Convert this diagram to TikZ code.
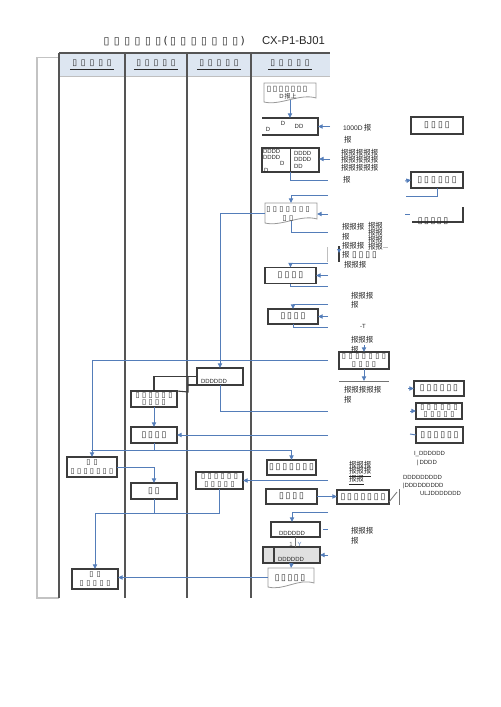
\documentclass[tikz,border=0pt]{standalone}
\usepackage{fontspec}
\setmainfont{Liberation Sans}
\newfontfamily\symf{DejaVu Sans}
\newfontfamily\cjkf{Noto Sans CJK SC}
\usetikzlibrary{calc,arrows.meta}
\definecolor{conn}{RGB}{84,125,185}
\definecolor{hdr}{RGB}{221,230,241}
\definecolor{boxc}{RGB}{60,60,60}
\definecolor{lanec}{RGB}{85,85,85}
\definecolor{framec}{RGB}{195,195,195}
\newcount\tfcnt
\newcommand\tofus[2]{\tfcnt=0\relax\loop\ifnum\tfcnt<#1\relax\makebox[#2pt]{\symf ▯}\advance\tfcnt by 1\relax\repeat}
\newcommand\docsh[1]{\draw[docl] (#1.north west) -- (#1.north east) -- ($(#1.south east)+(0,-4)$) .. controls ($(#1.south east)+(-16,-9)$) and ($(#1.south west)+(16,4)$) .. (#1.south west) -- cycle;}
\tikzset{
  every node/.style={inner sep=0pt, outer sep=0pt, text=black!85},
  bx/.style 2 args={draw=boxc, line width=0.8pt, fill=white, minimum width=#1*0.75pt, minimum height=#2*0.75pt},
  bxo/.style 2 args={minimum width=#1*0.75pt, minimum height=#2*0.75pt},
  tf/.style={font=\fontsize{6.6}{5.2}\selectfont, align=center},
  tf2/.style={font=\fontsize{5.6}{5.4}\selectfont, align=center},
  dt/.style={font=\fontsize{4.5}{5}\selectfont},
  cj/.style={font=\cjkf\fontsize{5.6}{6}\selectfont, anchor=west},
  cn/.style={draw=conn, line width=0.7pt},
  ca/.style={cn, -{Triangle[length=3.5pt,width=3.2pt]}},
  boxl/.style={draw=boxc, line width=0.8pt},
  thinl/.style={draw=black!55, line width=0.6pt},
  lightl/.style={draw=black!25, line width=0.6pt},
  lane/.style={draw=lanec, line width=0.9pt},
  docl/.style={draw=black!40, line width=0.6pt, fill=white},
  hl/.style={font=\fontsize{6.5}{6}\selectfont}
}
\begin{document}
\begin{tikzpicture}[x=0.75pt,y=-0.75pt]
\useasboundingbox (0,0) rectangle (500,707);
% title
\node[font=\symf\fontsize{8}{8}\selectfont] (title) at (173,41) {\tofus{6}{7.8}(\tofus{7}{7.8})};
\node[font=\fontsize{8.5}{10}\selectfont, anchor=west] (code) at (262,41) {CX-P1-BJ01};
% frame and lanes
\fill[hdr] (59,53) rectangle (330,76);
\draw[framec, line width=0.8pt] (37,57) -- (37,598) -- (59,598);
\draw[framec, line width=0.6pt] (37,57) -- (59,57);
\draw[lane] (59,53) -- (330,53);
\draw[black!25, line width=0.4pt] (59,76) -- (330,76);
\foreach \x in {59,125,187,251} \draw[lane] (\x,53) -- (\x,598);
\node[hl] (h1) at (92,65) {\underline{\tofus{5}{6.5}}};
\node[hl] (h2) at (156,65) {\underline{\tofus{5}{6.5}}};
\node[hl] (h3) at (219,65) {\underline{\tofus{5}{6.5}}};
\node[hl] (h4) at (290,65) {\underline{\tofus{5}{6.5}}};

% ---------- right lane ----------
\node[bxo={52}{19}] (doc1) at (290,92.5) {};
\docsh{doc1}
\node[tf, font=\fontsize{6}{5}\selectfont] (doc1a) at (287,89) {\tofus{7}{4.5}};
\node[dt] (doc1b) at (288,96.5) {D\,{\cjkf 报上}};

\node[bxo={56}{17}] (b2) at (290,126.5) {};
\draw[boxl] (b2.north west) -- (b2.north east) -- (b2.south east) -- (b2.south west);
\node[dt] (b2a) at (268,129) {D};
\node[dt] (b2b) at (283,123) {D};
\node[dt] (b2c) at (299,126) {DD};

\node[bx={52}{17}, tf] (r1) at (437,125.5) {\tofus{4}{5.2}};

\node[bx={57}{24}] (b3) at (290.5,160) {};
\draw[boxl] (b3.north) -- (b3.south);
\node[dt, anchor=west] (b3a) at (263,151.5) {DDDD};
\node[dt, anchor=west] (b3b) at (263,157) {DDDD};
\node[dt, anchor=west] (b3c) at (280,163.5) {D};
\node[dt, anchor=west] (b3d) at (264,170) {D};
\node[dt, anchor=west] (b3e) at (294,153) {DDDD};
\node[dt, anchor=west] (b3f) at (294,159.5) {DDDD};
\node[dt, anchor=west] (b3g) at (294,166) {DD};

\node[bx={52}{16}, tf] (r2) at (437,180) {\tofus{6}{5.2}};
\node[bxo={51}{15}] (r3) at (437.5,214.5) {};
\draw[boxl] (r3.north east) -- (r3.south east) -- (r3.south west);
\node[tf, anchor=base] (r3t) at (433,223.5) {\tofus{5}{4.8}};

\node[bxo={52}{20}] (doc2) at (291,213) {};
\docsh{doc2}
\node[tf2] (doc2a) at (288,210) {\tofus{7}{4.9}};
\node[tf2] (doc2b) at (288,218.5) {\tofus{2}{4.9}};

\node[bx={51}{16}, tf] (b4) at (290.5,275.5) {\tofus{4}{5.2}};
\node[bx={50}{15}, tf] (b5) at (293,316.5) {\tofus{4}{5}};
\node[bx={50}{17}, tf2] (b6) at (364,360.5) {\tofus{7}{5}\\\tofus{4}{5}};
\draw[thinl] (339,381) -- (389,381);

\node[bx={50}{15}, tf] (r4) at (439,388.5) {\tofus{6}{5}};
\node[bx={46}{16}, tf2] (r5) at (439,411) {\tofus{6}{5}\\\tofus{5}{5}};
\node[bx={47}{16}, tf] (r6) at (439.5,435) {\tofus{6}{5}};

\node[bx={49}{15}, tf] (b7) at (291.5,467.5) {\tofus{7}{5}};
\node[bx={51}{15}, tf] (b8) at (291.5,496.5) {\tofus{4}{5}};
\node[bx={52}{14}, tf] (b9) at (363,497) {\tofus{7}{5}};
\draw[thinl] (389,502) -- (397,492);
\draw[thinl] (399,489) -- (399,505);

\node[bx={49}{15}] (b10) at (295.5,529.5) {};
\node[dt, anchor=west] (b10t) at (279,533) {DDDDDD};
\node[bx={57}{16}, fill=black!12] (b11) at (291.5,555) {};
\draw[boxl] ($(b11.north west)+(11,0)$) -- ($(b11.south west)+(11,0)$);
\node[dt, anchor=west] (b11t) at (278,559) {DDDDDD};
\draw[thinl] (b10.south) -- (b10.south |- b11.north);
\node[dt, text=black!60] (one) at (291,544) {1};
\node[dt, text=conn] (yy) at (299.5,544) {Y};

\node[bxo={46}{19}] (doc3) at (291,577.5) {};
\docsh{doc3}
\node[tf] (doc3a) at (290,578) {\tofus{5}{4.8}};

% ---------- lanes 1-3 ----------
\node[bx={50}{20}, tf2] (L1) at (92,467) {\tofus{2}{5.5}\\[1.5pt]\tofus{7}{4.8}};
\node[bx={46}{20}, tf2] (L2) at (95,579) {\tofus{2}{5.5}\\[1.5pt]\tofus{5}{5}};
\node[bx={46}{16}, tf2] (m1) at (154,399) {\tofus{6}{4.9}\\\tofus{4}{4.9}};
\node[bx={46}{16}, tf] (m2) at (154,435) {\tofus{4}{5}};
\node[bx={46}{16}, tf] (m4) at (154,491) {\tofus{2}{5}};
\node[bx={46}{17}] (d6) at (220,376.5) {};
\node[dt, anchor=west] (d6t) at (201,381) {DDDDDD};
\node[bx={47}{17}, tf2] (m3) at (219.5,480.5) {\tofus{6}{4.9}\\\tofus{5}{4.9}};

% ---------- free ends ----------
\coordinate (e1) at (330,126.5);
\coordinate (e2) at (330,159);
\coordinate (e3) at (328,180);
\coordinate (e4) at (405,181);
\coordinate (e5) at (406,196);
\coordinate (e6) at (328,195);
\coordinate (e7) at (328,214);
\coordinate (e8) at (328,232);
\coordinate (e9) at (328,263);
\coordinate (e10) at (328,275.5);
\coordinate (e11) at (328,286);
\coordinate (e12) at (328,304);
\coordinate (e13) at (328,316.5);
\coordinate (e14) at (328,327);
\coordinate (e15) at (364,345);
\coordinate (e16) at (364,381);
\coordinate (e17) at (328,360);
\coordinate (e18) at (328,411);
\coordinate (e19) at (408,388.5);
\coordinate (e20) at (410,411);
\coordinate (e21) at (328,435);
\coordinate (e22) at (328,480.5);
\coordinate (e23) at (328,512);
\coordinate (e24) at (328,555);
\coordinate (j1) at (91,450);
\coordinate (j2) at (291.5,450);
\coordinate (j3) at (95,513);

% ---------- connectors ----------
\draw[ca] ($(doc1.south)+(0,-2)$) -- (b2.north);
\draw[ca] (e1) -- (b2.east);
\draw[ca] (e2) -- (b3.east |- e2);
\draw[cn] (b3.south) |- (e3);
\draw[ca] (e4) -- (r2.west);
\draw[cn] (r2.south) |- (e5);
\draw[cn] (405,214) -- (410,214);
\draw[ca] (e6) -| (doc2.north);
\draw[ca] (e7) -- (doc2.east |- e7);
\draw[cn] ($(doc2.south)+(0,-2)$) |- (e8);
\draw[ca] (doc2.west) -| (d6.north);
\draw[ca] (e9) -| (b4.north);
\draw[ca] (e10) -- (b4.east);
\draw[cn] (b4.south) |- (e11);
\draw[ca] (e12) -| (b5.north);
\draw[ca] (e13) -- (b5.east);
\draw[cn] (b5.south) |- (e14);
\draw[ca] (e15) -- (b6.north);
\draw[ca] (b6.south) -- (e16);
\draw[ca] (e17) -| (L1.north);
\draw[cn] (d6.south) |- (e18);
\draw[ca] (e19) -- (r4.west);
\draw[ca] (e20) -- (r5.west);
\draw[cn] (410,434) -- (r6.west);
\draw[ca] (e21) -- (m2.east);
\draw[ca] (m1.south) -- (m2.north);
\draw[boxl] (d6.west) -| (m1.north);
\draw[boxl] (188,376.5) -- (188,392) -- (m1.north east);
\draw[boxl] (188,385) -- (d6.south west);
\draw[cn] (m2.south) -- (m2.south |- j1);
\draw[cn] (j1) -- (j2);
\draw[ca] (j2) -- (b7.north);
\draw[ca] (e22) -- (m3.east);
\draw[ca] (L1.east) -| (m4.north);
\draw[cn] (m3.south) |- (j3);
\draw[cn] (m4.south) -- (m4.south |- j3);
\draw[ca] (j3) -- (L2.north);
\draw[ca] (b8.east) -- (b9.west |- b8.east);
\draw[ca] (e23) -| ($(b10.north)+(-3.5,0)$);
\draw[cn] (323,529) -- (328,529);
\draw[ca] (e24) -- (b11.east);
\draw[ca] (b11.south) -- (doc3.north);
\draw[ca] (doc3.west) -- (doc3.west -| L2.east);

% small marks
\draw[lightl] (327,247) -- (327,262);
\draw[boxl] (339,246) -- (339,262);
\fill[conn] (337,249) -- (341,249) -- (339,253) -- cycle;
\draw[lightl] (383,247) -- (388,247);

% ---------- loose texts ----------
\node[cj] (t1) at (343,128) {{\rmfamily\fontsize{5}{5}\selectfont 1000D}\,报};
\node[cj] (t1b) at (344,140) {报};
\node[cj] (t2a) at (341,153) {报报报报报};
\node[cj] (t2b) at (341,160) {报报报报报};
\node[cj] (t2c) at (341,168) {报报报报报};
\node[cj] (t2d) at (343,180) {报};
\node[cj] (t3a) at (342,227) {报报报};
\node[cj] (t3b) at (342,237) {报};
\node[cj] (t3c) at (342,246) {报报报};
\node[cj] (t3d) at (342,255) {报\ {\fontsize{6.5}{6}\selectfont\tofus{4}{5}}};
\node[cj] (t3e) at (344,265) {报报报};
\node[cj] (t3f) at (368,226) {报报};
\node[cj] (t3g) at (368,233) {报报};
\node[cj] (t3h) at (368,240) {报报};
\node[cj] (t3i) at (368,247) {报报};
\node[cj] (t4a) at (351,296) {报报报};
\node[cj] (t4b) at (351,305) {报};
\node[dt, anchor=west] (t5) at (360,326) {-T};
\node[cj] (t6a) at (351,340) {报报报};
\node[cj] (t6b) at (351,350) {报};
\node[cj] (t7a) at (344,390) {报报报报报};
\node[cj] (t7b) at (344,400) {报};
\node[dt, anchor=west] (t8a) at (414,454) {I\_DDDDDD};
\node[dt, anchor=west] (t8b) at (417,463) {|\,DDDD};
\node[cj] (t9a) at (349,465) {报报报};
\node[cj] (t9b) at (349,472) {\underline{报报报}};
\node[cj] (t9c) at (349,480) {\underline{报报}};
\node[dt, anchor=west] (t10a) at (403,477) {DDDDDDDDD};
\node[dt, anchor=west] (t10b) at (403,486) {|DDDDDDDDD};
\node[dt, anchor=west] (t10c) at (420,493) {ULJDDDDDDD};
\node[cj] (t11a) at (351,531) {报报报};
\node[cj] (t11b) at (351,541) {报};
\end{tikzpicture}
\end{document}
